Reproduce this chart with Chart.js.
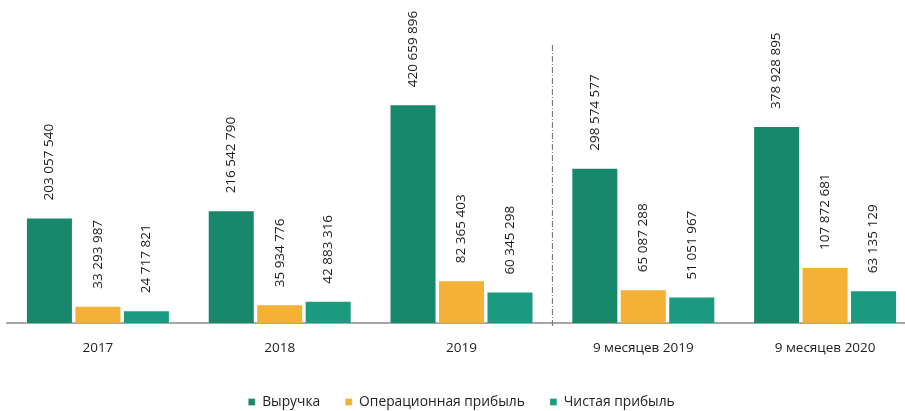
<!DOCTYPE html>
<html>
<head>
<meta charset="utf-8">
<script src="https://cdn.jsdelivr.net/npm/chart.js@4/dist/chart.umd.min.js"></script>
<style>
	html, body { margin: 0; padding: 0; background: #fff; overflow: hidden; }
	#wrap { position: relative; width: 918px; height: 411px; }
</style>
</head>
<body>
<div id="wrap"><canvas id="chart-finance"></canvas></div>
<script>
const CATEGORIES = ["2017", "2018", "2019", "9 месяцев 2019", "9 месяцев 2020"];
const REVENUE = [203057540, 216542790, 420659896, 298574577, 378928895];
const OPERATING_PROFIT = [33293987, 35934776, 82365403, 65087288, 107872681];
const NET_PROFIT = [24717821, 42883316, 60345298, 51051967, 63135129];
const SERIES_NAMES = ["Выручка", "Операционная прибыль", "Чистая прибыль"];

const FONT = "'Open Sans', sans-serif";

// "203 057 540" style
const fmt = (v) => String(v).replace(/\B(?=(\d{3})+(?!\d))/g, " ");

// Rotated value labels above each bar
const valueLabels = {
	id: "valueLabels",
	afterDatasetsDraw(chart) {
		const ctx = chart.ctx;
		ctx.save();
		ctx.font = "13.5px " + FONT;
		ctx.fillStyle = "#1a1a1a";
		ctx.textAlign = "left";
		ctx.textBaseline = "middle";
		chart.data.datasets.forEach((ds, i) => {
			chart.getDatasetMeta(i).data.forEach((bar, j) => {
				ctx.save();
				ctx.translate(bar.x, bar.y - 17);
				ctx.rotate(-Math.PI / 2);
				ctx.fillText(fmt(ds.data[j]), 0, 0);
				ctx.restore();
			});
		});
		ctx.restore();
	},
};

// Dash-dot separator between full years and 9-month periods
const separator = {
	id: "separator",
	afterDraw(chart) {
		const x = chart.scales.x;
		const px = (x.getPixelForValue(2) + x.getPixelForValue(3)) / 2;
		const ctx = chart.ctx;
		ctx.save();
		ctx.strokeStyle = "#6b6b6b";
		ctx.lineWidth = 1;
		ctx.setLineDash([6, 2, 1, 2]);
		ctx.beginPath();
		ctx.moveTo(px, chart.chartArea.top + 45);
		ctx.lineTo(px, chart.chartArea.bottom + 4);
		ctx.stroke();
		ctx.restore();
	},
};

const CHART_DATA = {
	labels: CATEGORIES,
	datasets: [
		{ label: SERIES_NAMES[0], data: REVENUE, backgroundColor: "#17886b" },
		{ label: SERIES_NAMES[1], data: OPERATING_PROFIT, backgroundColor: "#f5b136" },
		{ label: SERIES_NAMES[2], data: NET_PROFIT, backgroundColor: "#1a9a7e" },
	].map((d) => ({
		...d,
		borderColor: "rgba(255,255,255,0.35)",
		borderWidth: 1,
		barPercentage: 0.97,
		categoryPercentage: 0.8,
	})),
};

const CHART_CONFIG = {
	type: "bar",
	data: CHART_DATA,
	plugins: [valueLabels, separator],
	options: {
		responsive: false,
		animation: false,
		layout: { padding: { left: 7, right: 2, top: 0, bottom: -8 } },
		scales: {
			x: {
				grid: { display: false },
				border: { display: true, color: "#a6a6a6", width: 2 },
				ticks: { color: "#222", font: { family: FONT, size: 13.5 }, padding: 9 },
				// a bit more room between tick labels and legend
				afterFit: (scale) => {
					scale.height += 5;
				},
			},
			y: {
				display: false,
				min: 0,
				max: 621000000,
			},
		},
		plugins: {
			legend: {
				position: "bottom",
				labels: {
					color: "#222",
					font: { family: FONT, size: 13.8 },
					boxWidth: 7,
					boxHeight: 7,
					padding: 25,
					useBorderRadius: false,
				},
			},
			tooltip: { enabled: false },
		},
	},
};

const canvas = document.getElementById("chart-finance");
canvas.width = 918;
canvas.height = 411;
new Chart(canvas, CHART_CONFIG);
</script>
</body>
</html>
